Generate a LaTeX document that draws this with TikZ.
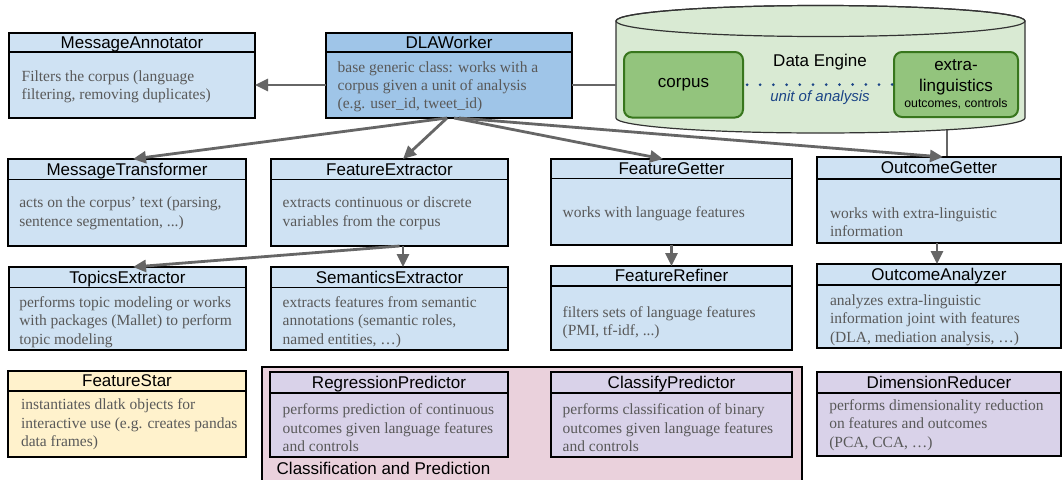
\documentclass[tikz,border=0pt]{standalone}
\usepackage{fontspec}
\setmainfont{Liberation Serif}
\setsansfont{Liberation Sans}
\usetikzlibrary{arrows.meta}
\definecolor{lblue}{HTML}{CFE2F3}
\definecolor{dblue}{HTML}{9FC5E8}
\definecolor{lyellow}{HTML}{FFF2CC}
\definecolor{lpurple}{HTML}{D9D2E9}
\definecolor{lpink}{HTML}{EAD1DC}
\definecolor{lgreen}{HTML}{D9EAD3}
\definecolor{mgreen}{HTML}{93C47D}
\definecolor{dgreen}{HTML}{38761D}
\definecolor{txtgray}{HTML}{595959}
\definecolor{linegray}{HTML}{666666}
\definecolor{navy}{HTML}{1C4587}
\tikzset{
  boxframe/.style={draw=black, line width=1.2pt, inner sep=0pt, outer sep=0pt},
  titleband/.style={draw=black, line width=1.2pt, inner sep=0pt, outer sep=0pt,
    text height=13pt, text depth=1.5pt, font=\sffamily\fontsize{17}{20}\selectfont},
  bodytext/.style={inner sep=0pt, outer sep=0pt, align=left, text=txtgray,
    font=\fontsize{15.5}{18.4}\selectfont},
  conn/.style={draw=linegray, line width=2.8pt, -{Triangle[length=13pt,width=12pt]}},
  plainline/.style={draw=linegray, line width=2.8pt},
  greenbox/.style={draw=dgreen, fill=mgreen, line width=2pt, rounded corners=8pt,
    inner sep=0pt, outer sep=0pt, align=center, font=\sffamily\fontsize{17}{21}\selectfont},
  sflabel/.style={inner sep=0pt, font=\sffamily\fontsize{17}{20}\selectfont}
}
\newcommand{\classbox}[8]{%
  \node[boxframe, fill=#7, minimum width={#4-#2}, minimum height={#6-#3}, anchor=north west] (#1) at (#2,#3) {};
  \node[titleband, fill=#7, minimum width={#4-#2}, minimum height={#5-#3}, anchor=north west] (#1t) at (#2,#3) {#8};
}
\newcommand{\boxtext}[4]{\node[bodytext, anchor=west] (#1) at (#2,#3) {#4};}
\begin{document}
\begin{tikzpicture}[x=1pt, y=-1pt]
\useasboundingbox[fill=white] (0,0) rectangle (1062,479);

% classification group
\node[boxframe, fill=lpink, minimum width=540, minimum height=114, anchor=north west] (cls) at (262,367) {};
\node[sflabel, anchor=west] (clslabel) at (276.5,468) {Classification and Prediction};

% data engine cylinder
\coordinate (cylW) at (616,85);
\coordinate (cylS) at (947,130);
\draw[plainline] (cylS) -- (947,157);
\path[fill=lgreen, draw=black!80, line width=1.2pt]
  (616,21) -- (616,118) arc[start angle=180, end angle=360, x radius=204.5pt, y radius=15pt]
  -- (1025,21) arc[start angle=0, end angle=180, x radius=204.5pt, y radius=15.5pt] -- cycle;
\draw[black!80, line width=1.2pt] (820.5,21) ellipse[x radius=204.5pt, y radius=15.5pt];
\node[greenbox, minimum width=119, minimum height=65.5, anchor=north west] (corpus) at (624,52) {corpus};
\node[greenbox, minimum width=124, minimum height=65, anchor=north west] (extra) at (894,52)
  {extra-\\linguistics\\[-5pt]{\fontsize{12.3}{14}\selectfont outcomes, controls}};
\node[sflabel] (engine) at (820,62) {Data Engine};
\node[inner sep=0pt, text=navy, font=\sffamily\itshape\fontsize{15}{18}\selectfont] (unit) at (820,98) {unit of analysis};
\draw[navy, line width=3pt, dash pattern=on 0pt off 13.2pt, line cap=round] ([xshift=4pt]corpus.east) -- (extra.west);

% class boxes
\classbox{ma}{9}{33}{255}{52}{118}{lblue}{MessageAnnotator}
\boxtext{mab}{21.7}{86.5}{Filters the corpus (language\\filtering, removing duplicates)}
\classbox{dla}{326}{33}{572}{52}{118}{dblue}{DLAWorker}
\boxtext{dlab}{337.7}{86.7}{base generic class: works with a\\corpus given a unit of analysis\\(e.g. user\_id, tweet\_id)}

\classbox{mt}{8}{159}{246}{179.5}{246}{lblue}{MessageTransformer}
\boxtext{mtb}{19.3}{213.3}{acts on the corpus’ text (parsing,\\sentence segmentation, ...)}
\classbox{fe}{271}{159}{508}{179.5}{246}{lblue}{FeatureExtractor}
\boxtext{feb}{282.7}{213.2}{extracts continuous or discrete\\variables from the corpus}
\classbox{fg}{551}{159}{792}{178.5}{245}{lblue}{FeatureGetter}
\boxtext{fgb}{562.7}{213.3}{works with language features}
\classbox{og}{817}{157}{1061}{179}{243}{lblue}{OutcomeGetter}
\boxtext{ogb}{830}{222}{works with extra-linguistic\\information}

\classbox{te}{9}{267}{246}{287.5}{350}{lblue}{TopicsExtractor}
\boxtext{teb}{19.3}{322}{performs topic modeling or works\\with packages (Mallet) to perform\\topic modeling}
\classbox{se}{271}{267}{508}{287.5}{350}{lblue}{SemanticsExtractor}
\boxtext{seb}{282.7}{322}{extracts features from semantic\\annotations (semantic roles,\\named entities, …)}
\classbox{fr}{551}{266}{792}{286}{350}{lblue}{FeatureRefiner}
\boxtext{frb}{562.7}{322.5}{filters sets of language features\\(PMI, tf-idf, ...)}
\classbox{oa}{817}{264}{1061}{285}{348}{lblue}{OutcomeAnalyzer}
\boxtext{oab}{830}{320}{analyzes extra-linguistic\\information joint with features\\(DLA, mediation analysis, …)}

\classbox{fs}{8}{371}{246}{391}{457}{lyellow}{FeatureStar}
\boxtext{fsb}{21}{424.2}{instantiates dlatk objects for\\interactive use (e.g. creates pandas\\data frames)}
\classbox{rp}{270}{372}{508}{393}{457}{lpurple}{RegressionPredictor}
\boxtext{rpb}{282.7}{427.7}{performs prediction of continuous\\outcomes given language features\\and controls}
\classbox{cp}{551}{372}{792}{393}{457}{lpurple}{ClassifyPredictor}
\boxtext{cpb}{562.7}{427.7}{performs classification of binary\\outcomes given language features\\and controls}
\classbox{dr}{817}{372}{1061}{393}{456}{lpurple}{DimensionReducer}
\boxtext{drb}{829.3}{425}{performs dimensionality reduction\\on features and outcomes\\(PCA, CCA, …)}

% connectors
\draw[conn] (dla.west |- cylW) -- (ma.east |- cylW);
\draw[plainline] (dla.east |- cylW) -- (cylW);
\draw[conn] ([xshift=-2pt]dla.south) -- ([xshift=6pt]mt.north);
\draw[conn] ([xshift=-2pt]dla.south) -- ([xshift=13.5pt]fe.north);
\draw[conn] ([xshift=5pt]dla.south) -- ([xshift=-8.5pt]fg.north);
\draw[conn] ([xshift=10pt]dla.south) -- ([xshift=4pt]og.north);
\draw[conn] ([xshift=13.5pt]fe.south) -- ([xshift=13.5pt]se.north);
\draw[conn] ([xshift=10pt]fe.south) -- ([xshift=5.5pt]te.north);
\draw[conn] (fg.south) -- (fg.south |- fr.north);
\draw[conn] ([xshift=-2pt]og.south) -- ([xshift=-2pt]oa.north);
\end{tikzpicture}
\end{document}
